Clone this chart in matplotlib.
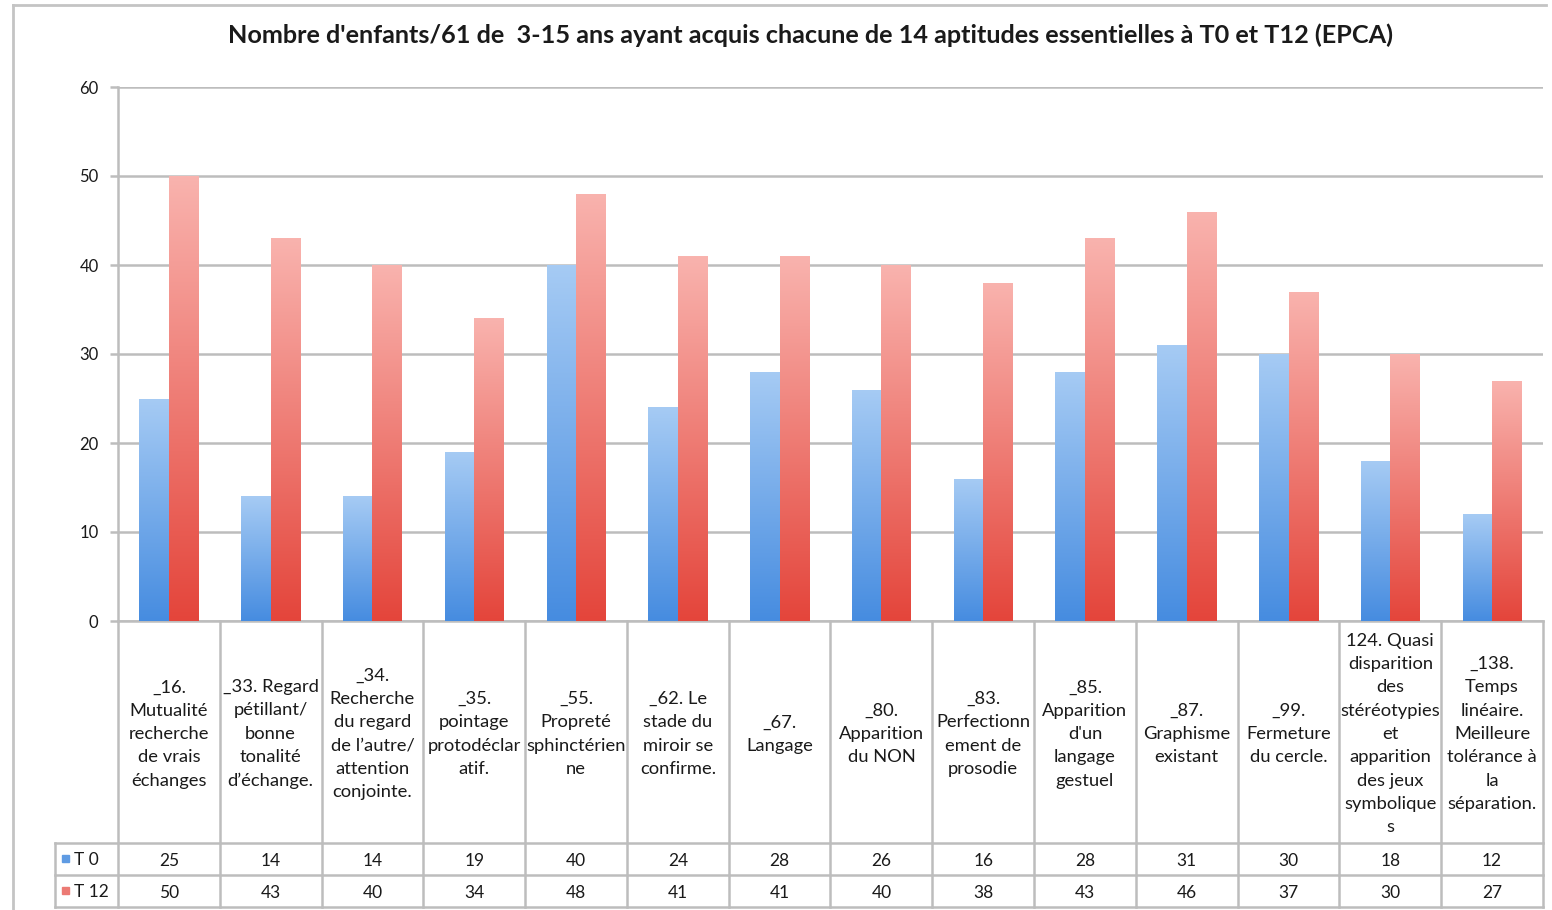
import numpy as np
import matplotlib
matplotlib.use("Agg")
import matplotlib.pyplot as plt
from matplotlib.colors import LinearSegmentedColormap
from matplotlib.transforms import blended_transform_factory
from matplotlib.patches import Rectangle

plt.rcParams['font.family'] = ['Lato', 'DejaVu Sans']

categories = [
    "_16.\nMutualité\nrecherche\nde vrais\néchanges",
    "_33. Regard\npétillant/\nbonne\ntonalité\nd\u2019échange.",
    "_34.\nRecherche\ndu regard\nde l\u2019autre/\nattention\nconjointe.",
    "_35.\npointage\nprotodéclar\natif.",
    "_55.\nPropreté\nsphinctérien\nne",
    "_62. Le\nstade du\nmiroir se\nconfirme.",
    "_67.\nLangage",
    "_80.\nApparition\ndu NON",
    "_83.\nPerfectionn\nement de\nprosodie",
    "_85.\nApparition\nd'un\nlangage\ngestuel",
    "_87.\nGraphisme\nexistant",
    "_99.\nFermeture\ndu cercle.",
    "124. Quasi\ndisparition\ndes\nstéréotypies\net\napparition\ndes jeux\nsymbolique\ns",
    "_138.\nTemps\nlinéaire.\nMeilleure\ntolérance à\nla\nséparation.",
]
series_names = ["T 0", "T 12"]
t0 = [25, 14, 14, 19, 40, 24, 28, 26, 16, 28, 31, 30, 18, 12]
t12 = [50, 43, 40, 34, 48, 41, 41, 40, 38, 43, 46, 37, 30, 27]
y_ticks = [0, 10, 20, 30, 40, 50, 60]
title = "Nombre d'enfants/61 de  3-15 ans ayant acquis chacune de 14 aptitudes essentielles à T0 et T12 (EPCA)"

W, H = 1552, 910
fig = plt.figure(figsize=(W / 100, H / 100), dpi=100)
fig.patch.set_facecolor("white")

def fx(px):
    return px / W

def fy(py):
    return 1 - py / H

ax_left, ax_right, ax_top, ax_bot = 118, 1543, 87, 621
ax = fig.add_axes([fx(ax_left), fy(ax_bot), fx(ax_right - ax_left), (ax_bot - ax_top) / H])

grid_col = "#bdbdbd"
text_col = "#1a1a1a"
n = len(categories)
x = np.arange(n)
bw = 0.29

blue_cmap = LinearSegmentedColormap.from_list("blue", ["#468ce0", "#a6cbf4"])
red_cmap = LinearSegmentedColormap.from_list("red", ["#e4453b", "#f9b3ae"])

ax.set_xlim(-0.5, n - 0.5)
ax.set_ylim(0, 60)

grad = np.linspace(0, 1, 256).reshape(-1, 1)
for vals, off, cmap in [(t0, -bw / 2, blue_cmap), (t12, bw / 2, red_cmap)]:
    bars = ax.bar(x + off, vals, width=bw, color="none", edgecolor="none", zorder=3)
    for b in bars:
        x0, w, h = b.get_x(), b.get_width(), b.get_height()
        im = ax.imshow(grad, cmap=cmap, origin="lower", aspect="auto",
                       extent=(x0, x0 + w, 0, h), zorder=3, interpolation="bilinear")
        im.set_clip_path(b)

ax.set_xlim(-0.5, n - 0.5)
ax.set_ylim(0, 60)
ax.set_yticks(y_ticks)
ax.set_yticklabels([str(v) for v in y_ticks], fontsize=12, color=text_col)
ax.tick_params(axis="y", length=6, width=1.8, color=grid_col, pad=8)
ax.set_xticks([])
ax.yaxis.grid(True, color=grid_col, linewidth=1.8, zorder=0)
ax.set_axisbelow(True)
for s in ["top", "right"]:
    ax.spines[s].set_visible(False)
ax.spines["left"].set_color(grid_col)
ax.spines["left"].set_linewidth(1.8)
ax.spines["bottom"].set_color(grid_col)
ax.spines["bottom"].set_linewidth(1.8)

# data table under the plot, in data-x / figure-pixel-y coordinates
trans = blended_transform_factory(ax.transData, fig.transFigure)
row_top, row_mid, row_bot = 843, 875, 907
line_kw = dict(color=grid_col, linewidth=1.8, clip_on=False)
for b in np.arange(n + 1) - 0.5:
    ax.plot([b, b], [fy(ax_bot), fy(row_bot)], transform=trans, **line_kw)
for yy in (row_top, row_mid, row_bot):
    fig.add_artist(plt.Line2D([fx(55), fx(ax_right)], [fy(yy), fy(yy)], **line_kw))
fig.add_artist(plt.Line2D([fx(55), fx(55)], [fy(row_top), fy(row_bot)], **line_kw))

for i, lab in enumerate(categories):
    ax.text(i, fy(734), lab, transform=trans, ha="center", va="center",
            fontsize=13.2, color=text_col, linespacing=1.56, clip_on=False)
    ax.text(i, fy((row_top + row_mid) / 2 + 2), str(t0[i]), transform=trans,
            ha="center", va="center", fontsize=12.5, color=text_col, clip_on=False)
    ax.text(i, fy((row_mid + row_bot) / 2 + 2), str(t12[i]), transform=trans,
            ha="center", va="center", fontsize=12.5, color=text_col, clip_on=False)

for name, col, yy in [(series_names[0], "#5f9be3", (row_top + row_mid) / 2),
                      (series_names[1], "#ec7a74", (row_mid + row_bot) / 2)]:
    fig.add_artist(Rectangle((fx(62), fy(yy + 3)), fx(7), 7 / H, color=col))
    fig.text(fx(74), fy(yy + 1), name, ha="left", va="center", fontsize=12.5, color=text_col)

# chart frame
fig.add_artist(plt.Line2D([fx(13), fx(1546)], [fy(5), fy(5)], color="#c4c4c4", linewidth=2))
fig.add_artist(plt.Line2D([fx(13), fx(13)], [fy(5), fy(910)], color="#c4c4c4", linewidth=2))

fig.text(fx(810), fy(35), title, ha="center", va="center", fontsize=18.2,
         fontweight="bold", color=text_col)

fig.savefig("out.png", dpi=100, facecolor="white")
